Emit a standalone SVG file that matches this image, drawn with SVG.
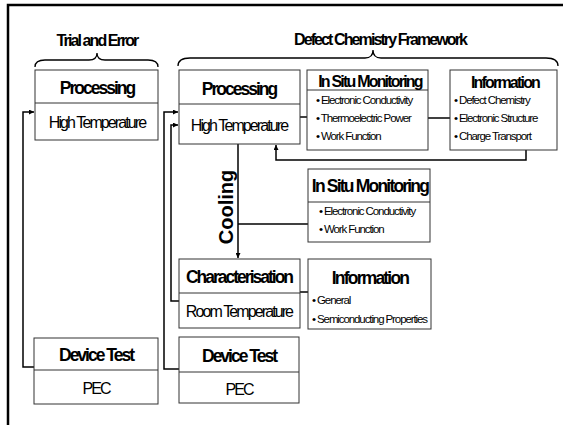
<svg xmlns="http://www.w3.org/2000/svg" width="563" height="425" viewBox="0 0 563 425">
<defs>
<marker id="ah" viewBox="0 0 10 10" refX="10" refY="5" markerWidth="5" markerHeight="5" orient="auto" markerUnits="userSpaceOnUse"><path d="M0,0 L10,5 L0,10 z" fill="#000"/></marker>
<style>
text{font-family:"Liberation Sans",Arial,sans-serif;fill:#000}
.box{fill:#fff;stroke:#333;stroke-width:1}
.div{stroke:#333;stroke-width:1}
.h{font-weight:bold;font-size:17.5px;letter-spacing:-2px;text-anchor:middle}
.s{font-size:16px;letter-spacing:-1.9px;text-anchor:middle}
.t{font-weight:bold;font-size:16px;letter-spacing:-1.9px;text-anchor:middle}
.b{font-size:11.5px;letter-spacing:-1.1px}
.c{fill:none;stroke:#000;stroke-width:1.5}
.br{fill:none;stroke:#000;stroke-width:1.3}
</style>
</defs>
<rect width="563" height="425" fill="#fff"/>
<path d="M8,425 L8,5 L563,5" fill="none" stroke="#000" stroke-width="2.5"/>

<g id="titles">
<text class="t" x="97" y="46">Trial and Error</text>
<path class="br" d="M35,67 Q35,60 45,60 L89,60 Q97,60 97,53 Q97,60 105,60 L148,60 Q158,60 158,67"/>
<text class="t" x="380" y="45">Defect Chemistry Framework</text>
<path class="br" d="M178,66 Q178,58 190,58 L365,58 Q373,58 373,50 Q373,58 381,58 L546,58 Q558,58 558,66"/>
</g>

<g id="connectors">
<path class="c" d="M35,367 L23,367 L23,112 L34,112" marker-end="url(#ah)"/>
<path class="c" d="M179,369 L164,369 L164,112 L178,112" marker-end="url(#ah)"/>
<path class="c" d="M179,301 L171,301 L171,125 L178,125" marker-end="url(#ah)"/>
<path class="c" d="M300,117 L307,117"/>
<path class="c" d="M428,118 L450,118"/>
<path class="c" d="M526,150 L526,160 L276,160 L276,145" marker-end="url(#ah)"/>
<path class="c" d="M238,144 L238,258" marker-end="url(#ah)"/>
<path class="c" d="M238,224 L308,224"/>
<path class="c" d="M300,292 L308,292"/>
<text x="233" y="207" transform="rotate(-90 233 207)" style="font-weight:bold;font-size:20px;text-anchor:middle">Cooling</text>
</g>

<g id="proc-left">
<rect class="box" x="35" y="70" width="123" height="70"/>
<line class="div" x1="35" y1="103" x2="158" y2="103"/>
<text class="h" x="97" y="94">Processing</text>
<text class="s" x="97" y="128">High Temperature</text>
</g>

<g id="device-left">
<rect class="box" x="34" y="338" width="124" height="66"/>
<line class="div" x1="34" y1="370" x2="158" y2="370"/>
<text class="h" x="96" y="361">Device Test</text>
<text class="s" x="96" y="394">PEC</text>
</g>

<g id="proc-right">
<rect class="box" x="179" y="70" width="121" height="74"/>
<line class="div" x1="179" y1="104" x2="300" y2="104"/>
<text class="h" x="239" y="95">Processing</text>
<text class="s" x="239" y="131">High Temperature</text>
</g>

<g id="insitu-1">
<rect class="box" x="307" y="70" width="121" height="80"/>
<line class="div" x1="307" y1="90" x2="428" y2="90"/>
<text class="h" x="370" y="87" style="font-size:16px;letter-spacing:-1.8px">In Situ Monitoring</text>
<text class="b" x="316" y="104">• Electronic Conductivity</text>
<text class="b" x="316" y="122">• Thermoelectric Power</text>
<text class="b" x="316" y="140">• Work Function</text>
</g>

<g id="info-1">
<rect class="box" x="450" y="70" width="107" height="80"/>
<text class="h" x="505" y="88" style="font-size:16px;letter-spacing:-1.8px">Information</text>
<text class="b" x="454" y="104">• Defect Chemistry</text>
<text class="b" x="454" y="122">• Electronic Structure</text>
<text class="b" x="454" y="140">• Charge Transport</text>
</g>

<g id="insitu-2">
<rect class="box" x="308" y="169" width="122" height="73"/>
<line class="div" x1="308" y1="202" x2="430" y2="202"/>
<text class="h" x="370" y="192" style="letter-spacing:-1.8px">In Situ Monitoring</text>
<text class="b" x="319" y="215">• Electronic Conductivity</text>
<text class="b" x="319" y="233">• Work Function</text>
</g>

<g id="charact">
<rect class="box" x="179" y="259" width="121" height="69"/>
<line class="div" x1="179" y1="293" x2="300" y2="293"/>
<text class="h" x="239" y="283">Characterisation</text>
<text class="s" x="239" y="317">Room Temperature</text>
</g>

<g id="info-2">
<rect class="box" x="308" y="259" width="123" height="70"/>
<text class="h" x="370" y="284" style="letter-spacing:-1.8px">Information</text>
<text class="b" x="312" y="304">• General</text>
<text class="b" x="312" y="323">• Semiconducting Properties</text>
</g>

<g id="device-right">
<rect class="box" x="179" y="337" width="120" height="66"/>
<line class="div" x1="179" y1="372" x2="299" y2="372"/>
<text class="h" x="239" y="362">Device Test</text>
<text class="s" x="239" y="395">PEC</text>
</g>
</svg>
